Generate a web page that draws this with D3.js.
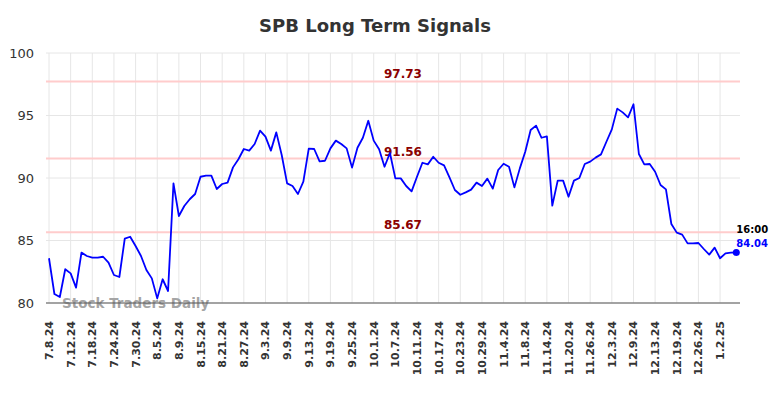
<!DOCTYPE html>
<html>
<head>
<meta charset="utf-8">
<script src="https://cdn.jsdelivr.net/npm/d3@7"></script>
<style>
  html, body { margin: 0; padding: 0; background: #fff; }
  svg { display: block; }
</style>
</head>
<body>
<svg id="chart" width="784" height="398"></svg>
<script>
// ---- DATA ----
const title = "SPB Long Term Signals";
const tickLabels = ["7.8.24","7.12.24","7.18.24","7.24.24","7.30.24","8.5.24","8.9.24","8.15.24","8.21.24","8.27.24","9.3.24","9.9.24","9.13.24","9.19.24","9.25.24","10.1.24","10.7.24","10.11.24","10.17.24","10.23.24","10.29.24","11.4.24","11.8.24","11.14.24","11.20.24","11.26.24","12.3.24","12.9.24","12.13.24","12.19.24","12.26.24","1.2.25"];
const tickEvery = 4;
const prices = [
  83.58, 80.72, 80.48, 82.70, 82.37, 81.23, 84.03, 83.76, 83.63, 83.63,
  83.70, 83.23, 82.24, 82.08, 85.15, 85.30, 84.56, 83.76, 82.64, 81.97,
  80.37, 81.90, 80.96, 89.57, 86.96, 87.76, 88.30, 88.72, 90.10, 90.19,
  90.19, 89.12, 89.52, 89.63, 90.85, 91.50, 92.32, 92.19, 92.72, 93.79,
  93.31, 92.19, 93.65, 91.84, 89.57, 89.36, 88.72, 89.71, 92.35, 92.32,
  91.33, 91.38, 92.37, 92.99, 92.72, 92.37, 90.83, 92.42, 93.22, 94.58,
  92.99, 92.30, 90.90, 92.00, 89.97, 89.97, 89.36, 88.93, 90.10, 91.22,
  91.09, 91.70, 91.22, 91.01, 90.05, 89.04, 88.66, 88.85, 89.07, 89.63,
  89.36, 89.95, 89.15, 90.64, 91.14, 90.90, 89.25, 90.77, 92.10, 93.84,
  94.19, 93.22, 93.33, 87.79, 89.79, 89.79, 88.50, 89.79, 90.00, 91.12,
  91.31, 91.63, 91.89, 92.90, 93.89, 95.55, 95.25, 94.85, 95.90, 91.92,
  91.09, 91.12, 90.50, 89.44, 89.09, 86.32, 85.63, 85.47, 84.77, 84.77,
  84.80, 84.32, 83.87, 84.43, 83.58, 83.97, 84.03, 84.04
];
const signalLevels = [97.73, 91.56, 85.67];
const yTicks = [80, 85, 90, 95, 100];
const lastTime = "16:00";
const lastValue = 84.04;
const watermark = "Stock Traders Daily";

// ---- LAYOUT ----
const svg = d3.select("#chart");
const plotLeft = 46, plotRight = 740, plotTop = 53, plotBottom = 303;

const x = d3.scaleLinear().domain([0, prices.length - 1]).range([49, 736.3]);
const y = d3.scaleLinear().domain([80, 100]).range([plotBottom, plotTop]);

// title
svg.append("text")
  .attr("x", 375).attr("y", 32)
  .attr("text-anchor", "middle")
  .attr("font-family", "DejaVu Sans, sans-serif")
  .attr("font-weight", "bold")
  .attr("font-size", 18)
  .attr("fill", "#333")
  .text(title);

// horizontal grid
const gGrid = svg.append("g");
gGrid.selectAll("line.h").data(yTicks).enter().append("line")
  .attr("x1", plotLeft).attr("x2", plotRight)
  .attr("y1", d => y(d)).attr("y2", d => y(d))
  .attr("stroke", "#e6e6e6").attr("stroke-width", 1);

// vertical grid
const tickIdx = tickLabels.map((_, i) => i * tickEvery);
gGrid.selectAll("line.v").data(tickIdx).enter().append("line")
  .attr("x1", d => x(d)).attr("x2", d => x(d))
  .attr("y1", plotTop).attr("y2", plotBottom)
  .attr("stroke", "#e6e6e6").attr("stroke-width", 1);

// y labels
svg.append("g").selectAll("text").data(yTicks).enter().append("text")
  .attr("x", 34).attr("y", d => y(d) + 4.5)
  .attr("text-anchor", "end")
  .attr("font-family", "DejaVu Sans, sans-serif")
  .attr("font-size", 13)
  .attr("fill", "#333")
  .text(d => d);

// signal lines
svg.append("g").selectAll("line").data(signalLevels).enter().append("line")
  .attr("x1", plotLeft).attr("x2", plotRight)
  .attr("y1", d => y(d)).attr("y2", d => y(d))
  .attr("stroke", "#ffcccc").attr("stroke-width", 2);

// watermark
svg.append("text")
  .attr("x", 62).attr("y", 308)
  .attr("font-family", "DejaVu Sans, sans-serif")
  .attr("font-weight", "bold")
  .attr("font-size", 13.5)
  .attr("fill", "#999")
  .attr("fill-opacity", 0.9)
  .text(watermark);

// x axis line
svg.append("line")
  .attr("x1", plotLeft).attr("x2", plotRight)
  .attr("y1", plotBottom).attr("y2", plotBottom)
  .attr("stroke", "#555").attr("stroke-width", 1.2);

// signal labels
svg.append("g").selectAll("text").data(signalLevels).enter().append("text")
  .attr("x", 403).attr("y", d => y(d) - 3)
  .attr("text-anchor", "middle")
  .attr("font-family", "DejaVu Sans, sans-serif")
  .attr("font-weight", "bold")
  .attr("font-size", 12)
  .attr("fill", "#8b0000")
  .text(d => d.toFixed(2));

// price line
const line = d3.line().x((d, i) => x(i)).y(d => y(d));
svg.append("path")
  .datum(prices)
  .attr("d", line)
  .attr("fill", "none")
  .attr("stroke", "#0000ff")
  .attr("stroke-width", 1.8)
  .attr("stroke-linejoin", "round");

// last point
const li = prices.length - 1;
svg.append("circle")
  .attr("cx", x(li)).attr("cy", y(prices[li]))
  .attr("r", 3.5).attr("fill", "#0000ff");

svg.append("text")
  .attr("x", x(li)).attr("y", y(prices[li]) - 20)
  .attr("font-family", "DejaVu Sans, sans-serif")
  .attr("font-weight", "bold")
  .attr("font-size", 10)
  .attr("fill", "#000")
  .text(lastTime);
svg.append("text")
  .attr("x", x(li)).attr("y", y(prices[li]) - 6)
  .attr("font-family", "DejaVu Sans, sans-serif")
  .attr("font-weight", "bold")
  .attr("font-size", 10)
  .attr("fill", "#0000ff")
  .text(lastValue.toFixed(2));

// x tick labels
svg.append("g").selectAll("text").data(tickLabels).enter().append("text")
  .attr("transform", (d, i) => `translate(${x(i * tickEvery) + 4},321) rotate(-90)`)
  .attr("text-anchor", "end")
  .attr("font-family", "DejaVu Sans, sans-serif")
  .attr("font-weight", "bold")
  .attr("font-size", 11)
  .attr("fill", "#333")
  .text(d => d);
</script>
</body>
</html>
